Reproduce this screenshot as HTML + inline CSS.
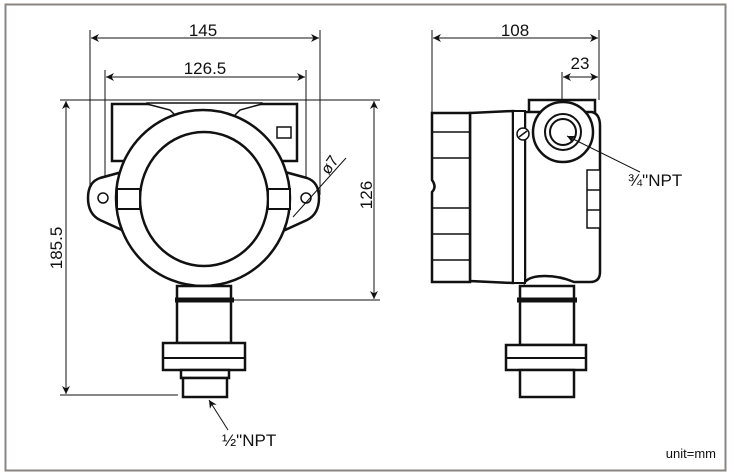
<!DOCTYPE html>
<html><head><meta charset="utf-8"><style>
html,body{margin:0;padding:0;background:#fff;}
svg{display:block;}
text{font-family:"Liberation Sans",sans-serif;fill:#111;}
</style></head><body>
<svg width="734" height="476" viewBox="0 0 734 476" xmlns="http://www.w3.org/2000/svg">
<defs>
<marker id="a" viewBox="0 0 10 10" refX="10" refY="5" markerWidth="10" markerHeight="8" orient="auto-start-reverse" markerUnits="userSpaceOnUse"><path d="M0,0 L10,5 L0,10 L3,5 z" fill="#111"/></marker>
</defs>
<rect x="5.5" y="4.5" width="720" height="466" fill="none" stroke="#8a8580" stroke-width="2"/>

<g stroke="#111" stroke-width="1" fill="none">
<line x1="90" y1="30" x2="90" y2="195"/>
<line x1="320" y1="30" x2="320" y2="195"/>
<line x1="105" y1="70" x2="105" y2="195"/>
<line x1="306" y1="70" x2="306" y2="195"/>
<line x1="91" y1="38" x2="319" y2="38" marker-start="url(#a)" marker-end="url(#a)"/>
<line x1="106" y1="77" x2="305" y2="77" marker-start="url(#a)" marker-end="url(#a)"/>
<line x1="60" y1="100" x2="380" y2="100"/>
<line x1="66" y1="101" x2="66" y2="394" marker-start="url(#a)" marker-end="url(#a)"/>
<line x1="60" y1="395" x2="178" y2="395"/>
<line x1="374" y1="101" x2="374" y2="299" marker-start="url(#a)" marker-end="url(#a)"/>
<line x1="234" y1="300" x2="380" y2="300"/>
</g>
<text x="203" y="36" font-size="17" text-anchor="middle">145</text>
<text x="205" y="74" font-size="17" text-anchor="middle">126.5</text>
<text font-size="17" text-anchor="middle" transform="translate(62,248) rotate(-90)">185.5</text>
<text font-size="17" text-anchor="middle" transform="translate(372,195) rotate(-90)">126</text>
<text font-size="16" text-anchor="middle" transform="translate(334,168) rotate(-55)">ø7</text>

<g stroke="#111" stroke-width="2.5" fill="#fff">
<rect x="112" y="104" width="185" height="57"/>
<path d="M147,103 L262,103 L262,104 L240,110 L232,118 L178,118 L170,110 L147,104 Z" stroke-width="1.5"/>
<path d="M122,172 L100,178 Q88,182 88,198 Q88,214 100,220 L122,230 Z"/>
<path d="M285,172 L307,178 Q319,182 319,198 Q319,214 307,220 L285,230 Z"/>
<ellipse cx="203" cy="198" rx="87" ry="88"/>
<ellipse cx="204" cy="199" rx="64" ry="67"/>
<rect x="117" y="189" width="23" height="20" stroke-width="2"/>
<rect x="268" y="189" width="22" height="20" stroke-width="2"/>
<circle cx="103" cy="198" r="5" stroke-width="1.5"/>
<circle cx="306" cy="198" r="5" stroke-width="1.5"/>
<rect x="277" y="127" width="14" height="11" stroke-width="1.5"/>
<rect x="177" y="286" width="54" height="14"/>
<rect x="177" y="300" width="54" height="43"/>
<rect x="163" y="343" width="82" height="27"/>
<line x1="163" y1="358" x2="245" y2="358" stroke-width="2"/>
<rect x="181" y="370" width="48" height="8"/>
<rect x="183" y="378" width="44" height="19"/>
</g>
<line x1="293" y1="217" x2="346" y2="158" stroke="#111" stroke-width="1"/>
<line x1="175" y1="300" x2="234" y2="300" stroke="#111" stroke-width="5"/>
<line x1="228" y1="430" x2="209" y2="400" stroke="#111" stroke-width="1" marker-end="url(#a)"/>
<text x="222" y="446" font-size="17">½"NPT</text>

<g stroke="#111" stroke-width="1" fill="none">
<line x1="432" y1="30" x2="432" y2="115"/>
<line x1="599" y1="30" x2="599" y2="100"/>
<line x1="433" y1="38" x2="598" y2="38" marker-start="url(#a)" marker-end="url(#a)"/>
<line x1="562" y1="72" x2="562" y2="132"/>
<line x1="563" y1="77" x2="598" y2="77" marker-start="url(#a)" marker-end="url(#a)"/>
</g>
<text x="515" y="36" font-size="17" text-anchor="middle">108</text>
<text x="580" y="69" font-size="17" text-anchor="middle">23</text>

<g stroke="#111" stroke-width="2.5" fill="#fff">
<rect x="529" y="100" width="66" height="16"/>
<path d="M525,112 L592,112 Q600,114 600,126 L600,272 Q600,282 590,282 L574,282 Q560,276 545,276 Q530,276 525,282 Z"/>
<path d="M470,113 L513,111 L513,283 L470,281 Z"/>
<rect x="513" y="111" width="12" height="172" stroke-width="2"/>
<path d="M432,113 L470,113 L470,282 L432,282 L432,192 Q437,187 432,180 Z"/>
<rect x="587" y="170" width="13" height="58" stroke-width="1.5"/>
<circle cx="563" cy="132" r="30"/>
<circle cx="563" cy="132" r="18" stroke-width="2"/>
<circle cx="563" cy="132" r="13" stroke-width="2"/>
<circle cx="523" cy="134" r="6" stroke-width="1.5"/>
<rect x="520" y="286" width="54" height="14"/>
<rect x="520" y="300" width="54" height="45"/>
<rect x="506" y="345" width="80" height="25"/>
<line x1="506" y1="358" x2="586" y2="358" stroke-width="2"/>
<rect x="520" y="370" width="54" height="27"/>
</g>
<g stroke="#111" stroke-width="1.5">
<line x1="433" y1="132" x2="470" y2="132"/><line x1="433" y1="158" x2="470" y2="158"/>
<line x1="433" y1="208" x2="470" y2="208"/><line x1="433" y1="234" x2="470" y2="234"/>
<line x1="433" y1="260" x2="470" y2="260"/>
<line x1="587" y1="190" x2="600" y2="190"/><line x1="587" y1="210" x2="600" y2="210"/>
<line x1="519" y1="137" x2="527" y2="131"/>
</g>
<line x1="517" y1="300" x2="577" y2="300" stroke="#111" stroke-width="5"/>
<line x1="640" y1="172" x2="567" y2="136" stroke="#111" stroke-width="1" marker-end="url(#a)"/>
<text x="628" y="186" font-size="17">¾"NPT</text>

<text x="716" y="458" font-size="13" text-anchor="end">unit=mm</text>
</svg>
</body></html>
